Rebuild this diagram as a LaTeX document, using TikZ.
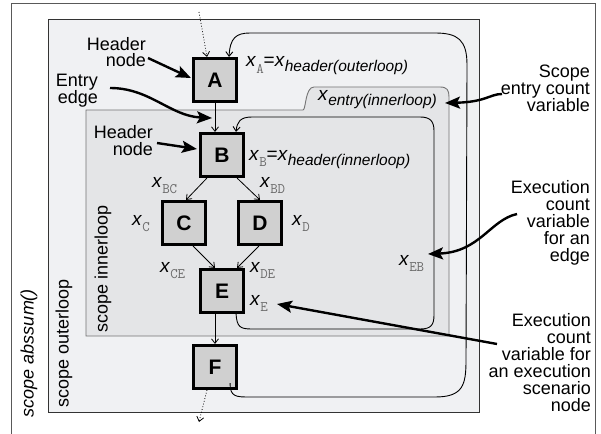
\documentclass[tikz,border=0pt]{standalone}
\usepackage{fontspec}
\setmainfont{Liberation Sans}
\usetikzlibrary{arrows.meta,calc}
\definecolor{outfill}{HTML}{F0F1F3}
\definecolor{infill}{HTML}{E4E5E7}
\definecolor{nodefill}{HTML}{D0D0D0}
\definecolor{subgray}{HTML}{6A6A6A}
\newcommand{\xv}[1]{\textit{x}\raisebox{-6pt}{\fontsize{14.5}{14.5}\selectfont\ttfamily\color{subgray}#1}}
\newcommand{\xvit}[1]{\textit{x}\raisebox{-5pt}{\fontsize{15.5}{15.5}\selectfont\itshape #1}}
\begin{document}
\begin{tikzpicture}[x=1pt,y=-1pt,
  blk/.style={draw=black, line width=2.6pt, fill=nodefill, minimum size=43.5pt, inner sep=0pt,
    font=\fontsize{21}{21}\selectfont\bfseries},
  flow/.style={-{Straight Barb[length=4.5pt,width=7pt]}, line width=0.8pt},
  back/.style={-{Straight Barb[length=4.5pt,width=7pt]}, line width=0.9pt},
  ann/.style={-{Stealth[length=15pt,width=12pt,inset=3pt]}, line width=2.4pt},
  lbl/.style={font=\fontsize{18}{18.5}\selectfont, align=right, inner sep=0pt, anchor=base east},
  var/.style={font=\fontsize{19}{19}\selectfont, inner sep=0pt, anchor=base west},
  rot/.style={font=\fontsize{18}{18}\selectfont, rotate=90, inner sep=0pt}]
\useasboundingbox (0,0) rectangle (601,433);
\fill[white] (0,0) rectangle (601,433);
% scope frames
\draw[draw=black!65, line width=1pt] (11,445) -- (11,4) -- (595,4) -- (595,445);
\draw[draw=black!80, line width=0.9pt, fill=outfill] (48,19) rectangle (479,412);
\draw[draw=black!55, line width=0.9pt, fill=infill] (86,336) -- (86,110) -- (303,110)
  .. controls (306,110) and (305,87) .. (314,87) -- (440,87)
  .. controls (447,87) and (449,90) .. (449,97) -- (449,336) -- cycle;
% rotated scope labels
\node[rot, font=\fontsize{18}{18}\selectfont\itshape] (sabs) at (29,353) {scope abssum()};
\node[rot] (sout) at (64,343) {scope outerloop};
\node[rot] (sin) at (103,269) {scope innerloop};
% nodes
\node[blk] (A) at (215,80) {A};
\node[blk] (B) at (222,155) {B};
\node[blk] (C) at (184,223) {C};
\node[blk] (D) at (260,223) {D};
\node[blk] (E) at (222,291) {E};
\node[blk] (F) at (215,367) {F};
% flow edges
\coordinate (inA) at (199,12);
\coordinate (outF) at (199,422);
\draw[flow, dotted] (inA) -- ($(A.north)+(-8,0)$);
\draw[flow, dotted] ($(F.south)+(-8,0)$) -- (outF);
\draw[flow] (A.south) -- (A.south |- B.north);
\draw[flow] ($(B.south west)+(8,0)$) -- ($(C.north)+(2,0)$);
\draw[flow] ($(B.south east)+(-8,0)$) -- (D.north);
\draw[flow] ($(C.south)+(9,0)$) -- ($(E.north)+(-7,0)$);
\draw[flow] ($(D.south)+(-1,0)$) -- ($(E.north)+(15,0)$);
\draw[flow] (F.north |- E.south) -- (F.north);
% back edges
\draw[back] ($(F.south east)+(-8,-7)$) .. controls (230,397) and (236,397) .. (250,397)
  -- (435,397) .. controls (463,397) and (466,385) .. (466,360)
  -- (467,65) .. controls (467,40) and (458,33) .. (435,33)
  -- (250,33) .. controls (236,33) and (230,38) .. ($(A.north east)+(-9,0)$);
\draw[back] ($(E.south east)+(-9,0)$) .. controls (237,327) and (240,329) .. (252,329)
  -- (420,329) .. controls (431,329) and (434,325) .. (434,315)
  -- (434,131) .. controls (434,121) and (430,117) .. (420,117)
  -- (252,117) .. controls (240,117) and (237,122) .. ($(B.north east)+(-9,0)$);
% variable labels
\node[var] (vA) at (246,67) {\xv{A}=\xvit{header(outerloop)}};
\node[var] (vent) at (318,100) {\xvit{entry(innerloop)}};
\node[var] (vB) at (249,160) {\xv{B}=\xvit{header(innerloop)}};
\node[var] (vBC) at (152,187) {\xv{BC}};
\node[var] (vBD) at (260,187) {\xv{BD}};
\node[var] (vC) at (132,225) {\xv{C}};
\node[var] (vD) at (292,225) {\xv{D}};
\node[var] (vCE) at (160,272) {\xv{CE}};
\node[var] (vDE) at (250,272) {\xv{DE}};
\node[var] (vE) at (250,305) {\xv{E}};
\node[var] (vEB) at (399,265) {\xv{EB}};
% annotation labels (anchor at baseline of last line)
\node[lbl] (hA) at (146,67) {Header\\[-1.5pt]node};
\node[lbl] (ent) at (98,103) {Entry\\[-1.5pt]edge};
\node[lbl] (hB) at (153,155) {Header\\[-1.5pt]node};
\node[lbl] (sec) at (590,111) {Scope\\[-1.5pt]entry count\\[-1.5pt]variable};
\node[lbl] (ece) at (590,261) {Execution\\[-1.5pt]count\\[-1.5pt]variable\\[-1.5pt]for an\\[-1.5pt]edge};
\node[lbl] (ecn) at (591,411) {Execution\\[-1.5pt]count\\[-1.5pt]variable for\\[-1.5pt]an execution\\[-1.5pt]scenario\\[-1.5pt]node};
% annotation arrows
\coordinate (a1) at (148,58);
\coordinate (a2) at (110,88);
\coordinate (a3) at (157,143);
\coordinate (a4) at (502,94);
\coordinate (a5) at (517,214);
\coordinate (a6) at (497,344);
\draw[ann] (a1) -- ($(A.west)+(-1,-2)$);
\draw[ann] (a2) .. controls (150,88) and (170,116) .. ($(A.south)+(-3,15)$);
\draw[ann] (a3) -- ($(B.west)+(-2,-6)$);
\draw[ann] (a4) .. controls (490,94) and (486,102) .. (445,103);
\draw[ann] (a5) .. controls (490,220) and (480,252) .. (428,254);
\draw[ann] (a6) -- (277,304);
\end{tikzpicture}
\end{document}
